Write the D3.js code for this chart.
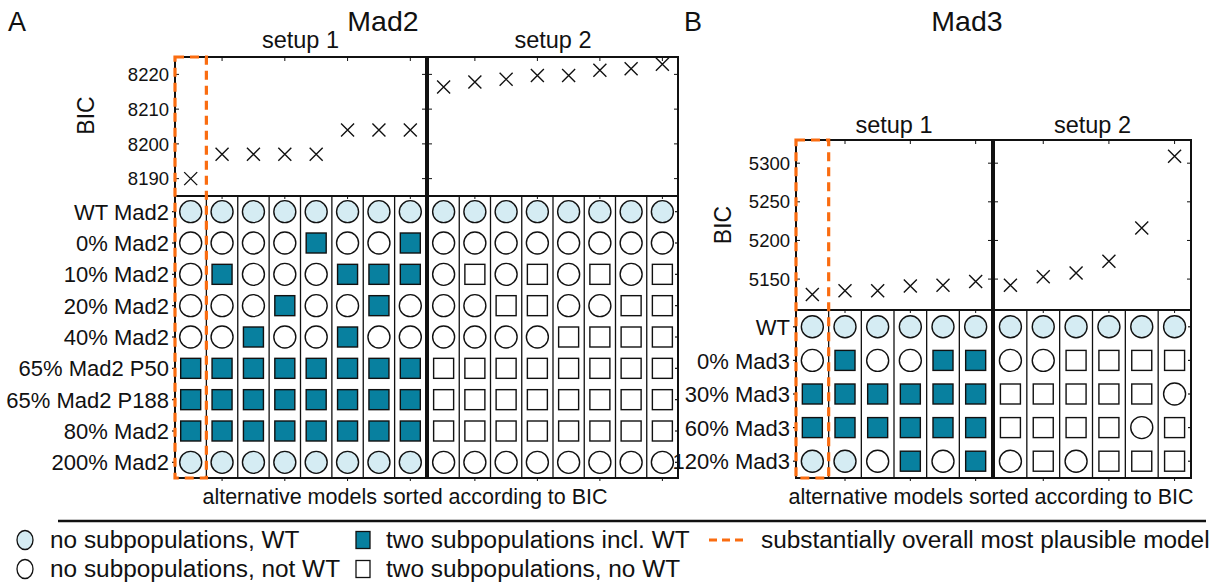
<!DOCTYPE html>
<html><head><meta charset="utf-8">
<script src="https://cdn.jsdelivr.net/npm/d3@7"></script>
<style>
html,body{margin:0;padding:0;background:#fff;}
text{font-family:Arial,"Liberation Sans",Helvetica,sans-serif;fill:#111;}
</style></head>
<body>
<svg id="chart" width="1220" height="584"></svg>
<script>
// ---------- DATA ----------
const mad2Rows = ["WT Mad2","0% Mad2","10% Mad2","20% Mad2","40% Mad2","65% Mad2 P50","65% Mad2 P188","80% Mad2","200% Mad2"];
// codes: W = no subpop WT, o = no subpop not WT, T = two subpop incl WT, s = two subpop no WT
const mad2Setup1 = ["WWWWWWWW","ooooTooT","oToooTTT","oooTooTo","ooTooToo","TTTTTTTT","TTTTTTTT","TTTTTTTT","WWWWWWWW"];
const mad2Setup2 = ["WWWWWWWW","oooooooo","osososos","oossooss","oooossss","ssssssss","ssssssss","ssssssss","oooooooo"];
const mad2BIC1 = [8190, 8197, 8197, 8197, 8197, 8204, 8204, 8204];
const mad2BIC2 = [8216.4, 8217.8, 8218.6, 8219.7, 8219.7, 8221.2, 8221.6, 8222.9];
const mad2Ticks = [8190, 8200, 8210, 8220];

const mad3Rows = ["WT","0% Mad3","30% Mad3","60% Mad3","120% Mad3"];
const mad3Setup1 = ["WWWWWW","oTooTT","TTTTTT","TTTTTT","WWoToT"];
const mad3Setup2 = ["WWWWWW","oossss","ssssso","ssssos","ososss"];
const mad3BIC1 = [5130, 5135, 5135, 5141, 5142, 5147];
const mad3BIC2 = [5142, 5153, 5158, 5173, 5216, 5309];
const mad3Ticks = [5150, 5200, 5250, 5300];

const setupLabels = ["setup 1", "setup 2"];
const xAxisLabel = "alternative models sorted according to BIC";
const legendItems = [
  {code:"W", label:"no subpopulations, WT"},
  {code:"o", label:"no subpopulations, not WT"},
  {code:"T", label:"two subpopulations incl. WT"},
  {code:"s", label:"two subpopulations, no WT"},
  {code:"D", label:"substantially overall most plausible model"}
];

// ---------- STYLE ----------
const C_WT = "#d5ecf3", C_TEAL = "#08809f", C_ORANGE = "#fa6c10", C_LINE = "#111";
const svg = d3.select("#chart");

function drawMarker(g, code, cx, cy, r, sq) {
  if (code === "W" || code === "o") {
    g.append("circle").attr("cx", cx).attr("cy", cy).attr("r", r)
      .attr("fill", code === "W" ? C_WT : "#fff").attr("stroke", C_LINE).attr("stroke-width", 1.4);
  } else {
    g.append("rect").attr("x", cx - sq/2).attr("y", cy - sq/2).attr("width", sq).attr("height", sq)
      .attr("fill", code === "T" ? C_TEAL : "#fff").attr("stroke", C_LINE).attr("stroke-width", 1.4);
  }
}

function drawPanel(cfg) {
  const g = svg.append("g");
  const y = d3.scaleLinear().domain(cfg.domain).range([cfg.gridTop, cfg.plotTop]);
  const rowScale = d3.scaleBand().domain(cfg.rows).range([cfg.gridTop, cfg.gridBottom]);
  const setups = [
    {x0: cfg.s1[0], x1: cfg.s1[1], codes: cfg.codes1, bic: cfg.bic1},
    {x0: cfg.s2[0], x1: cfg.s2[1], codes: cfg.codes2, bic: cfg.bic2}
  ];
  setups.forEach((s, si) => {
    const n = s.bic.length;
    const xs = d3.scaleBand().domain(d3.range(n)).range([s.x0, s.x1]);
    const bw = xs.bandwidth();
    d3.range(1, n).forEach(i => {
      g.append("line").attr("x1", xs(i)).attr("x2", xs(i)).attr("y1", cfg.gridTop).attr("y2", cfg.gridBottom)
        .attr("stroke", C_LINE).attr("stroke-width", 1.3);
    });
    cfg.rows.forEach((row, ri) => {
      const cy = rowScale(row) + rowScale.bandwidth()/2;
      d3.range(n).forEach(ci => {
        drawMarker(g, s.codes[ri][ci], xs(ci) + bw/2, cy, cfg.r, cfg.sq);
      });
    });
    g.append("rect").attr("x", s.x0).attr("y", cfg.plotTop).attr("width", s.x1 - s.x0).attr("height", cfg.gridTop - cfg.plotTop)
      .attr("fill", "none").attr("stroke", C_LINE).attr("stroke-width", 2);
    g.append("rect").attr("x", s.x0).attr("y", cfg.gridTop).attr("width", s.x1 - s.x0).attr("height", cfg.gridBottom - cfg.gridTop)
      .attr("fill", "none").attr("stroke", C_LINE).attr("stroke-width", 2);
    d3.range(1, n, 2).forEach(ci => {
      const cx = xs(ci) + bw/2;
      g.append("line").attr("x1", cx).attr("x2", cx).attr("y1", cfg.plotTop).attr("y2", cfg.plotTop + 4).attr("stroke", C_LINE).attr("stroke-width", 1);
      g.append("line").attr("x1", cx).attr("x2", cx).attr("y1", cfg.gridTop).attr("y2", cfg.gridTop + 3).attr("stroke", C_LINE).attr("stroke-width", 1);
      g.append("line").attr("x1", cx).attr("x2", cx).attr("y1", cfg.gridBottom).attr("y2", cfg.gridBottom + 3).attr("stroke", C_LINE).attr("stroke-width", 1);
    });
    cfg.ticks.forEach(t => {
      g.append("line").attr("x1", s.x0).attr("x2", s.x0 + 4).attr("y1", y(t)).attr("y2", y(t)).attr("stroke", C_LINE).attr("stroke-width", 1);
      g.append("line").attr("x1", s.x1).attr("x2", s.x1 - 4).attr("y1", y(t)).attr("y2", y(t)).attr("stroke", C_LINE).attr("stroke-width", 1);
    });
    cfg.rows.forEach(row => {
      const cy = rowScale(row) + rowScale.bandwidth()/2;
      if (si === 0) g.append("line").attr("x1", s.x0 - 3).attr("x2", s.x0).attr("y1", cy).attr("y2", cy).attr("stroke", C_LINE).attr("stroke-width", 1.2);
      else g.append("line").attr("x1", s.x1).attr("x2", s.x1 - 3).attr("y1", cy).attr("y2", cy).attr("stroke", C_LINE).attr("stroke-width", 1.2);
    });
    s.bic.forEach((v, ci) => {
      const cx = xs(ci) + bw/2, cy = y(v), h = 6.5;
      g.append("path").attr("d", `M${cx-h},${cy-h}L${cx+h},${cy+h}M${cx-h},${cy+h}L${cx+h},${cy-h}`)
        .attr("stroke", C_LINE).attr("stroke-width", 1.4).attr("fill", "none");
    });
    g.append("text").attr("x", (s.x0 + s.x1)/2).attr("y", cfg.setupY).attr("text-anchor", "middle")
      .attr("font-size", 23.5).text(setupLabels[si]);
    if (si === 0) {
      g.append("rect").attr("x", xs(0)).attr("y", cfg.plotTop).attr("width", bw).attr("height", cfg.gridBottom - cfg.plotTop)
        .attr("fill", "none").attr("stroke", C_ORANGE).attr("stroke-width", 3.2).attr("stroke-dasharray", "9,6");
    }
  });
  cfg.ticks.forEach(t => {
    g.append("text").attr("x", cfg.s1[0] - 6).attr("y", y(t)).attr("dy", "0.36em").attr("text-anchor", "end")
      .attr("font-size", 18.5).text(t);
  });
  cfg.rows.forEach(row => {
    g.append("text").attr("x", cfg.s1[0] - 6).attr("y", rowScale(row) + rowScale.bandwidth()/2).attr("dy", "0.37em")
      .attr("text-anchor", "end").attr("font-size", 22).text(row);
  });
  g.append("text").attr("transform", `translate(${cfg.bicX},${(cfg.plotTop + cfg.gridTop)/2 - cfg.bicShift}) rotate(-90)`)
    .attr("text-anchor", "middle").attr("font-size", 23).text("BIC");
  g.append("text").attr("x", cfg.letterX).attr("y", 31).attr("font-size", 27).text(cfg.letter);
  g.append("text").attr("x", cfg.titleX).attr("y", 31).attr("text-anchor", "middle").attr("font-size", 28.5).text(cfg.title);
  g.append("text").attr("x", cfg.xlabX).attr("y", 504).attr("text-anchor", "middle").attr("font-size", 21.5).text(xAxisLabel);
}

drawPanel({
  letter: "A", letterX: 8, title: "Mad2", titleX: 383,
  s1: [175, 426], s2: [428, 678], plotTop: 57, gridTop: 196, gridBottom: 478,
  domain: [8185, 8225], ticks: mad2Ticks, rows: mad2Rows,
  codes1: mad2Setup1, codes2: mad2Setup2, bic1: mad2BIC1, bic2: mad2BIC2,
  r: 11, sq: 20, setupY: 48, bicX: 94, bicShift: 11, xlabX: 405
});
drawPanel({
  letter: "B", letterX: 684, title: "Mad3", titleX: 967,
  s1: [796, 992], s2: [994, 1191], plotTop: 140, gridTop: 310, gridBottom: 478,
  domain: [5110, 5330], ticks: mad3Ticks, rows: mad3Rows,
  codes1: mad3Setup1, codes2: mad3Setup2, bic1: mad3BIC1, bic2: mad3BIC2,
  r: 11, sq: 20, setupY: 133, bicX: 731, bicShift: 0, xlabX: 991
});

// ---------- LEGEND ----------
svg.append("line").attr("x1", 58).attr("x2", 1206).attr("y1", 521).attr("y2", 521).attr("stroke", C_LINE).attr("stroke-width", 2.5);
const legPos = [
  {x: 25, y: 540, tx: 50}, {x: 25, y: 569, tx: 50}, {x: 363, y: 540, tx: 386}, {x: 363, y: 569, tx: 386}, {x: 727, y: 540, tx: 761}
];
const lg = svg.append("g");
legendItems.forEach((it, i) => {
  const p = legPos[i];
  if (it.code === "W" || it.code === "o") {
    lg.append("ellipse").attr("cx", p.x).attr("cy", p.y).attr("rx", 8).attr("ry", 9.5)
      .attr("fill", it.code === "W" ? C_WT : "#fff").attr("stroke", C_LINE).attr("stroke-width", 1.3);
  } else if (it.code === "T" || it.code === "s") {
    lg.append("rect").attr("x", p.x - 7).attr("y", p.y - 8.5).attr("width", 14).attr("height", 17)
      .attr("fill", it.code === "T" ? C_TEAL : "#fff").attr("stroke", C_LINE).attr("stroke-width", 1.3);
  } else {
    lg.append("line").attr("x1", p.x - 18).attr("x2", p.x + 19).attr("y1", p.y).attr("y2", p.y)
      .attr("stroke", C_ORANGE).attr("stroke-width", 3.2).attr("stroke-dasharray", "8,5");
  }
  const t = lg.append("text").attr("x", p.tx).attr("y", p.y).attr("dy", "0.36em")
    .attr("font-size", 23).text(it.label);
  const len = t.node().getComputedTextLength();
  t.attr("textLength", len * 1.06).attr("lengthAdjust", "spacingAndGlyphs");
});
</script>
</body></html>
